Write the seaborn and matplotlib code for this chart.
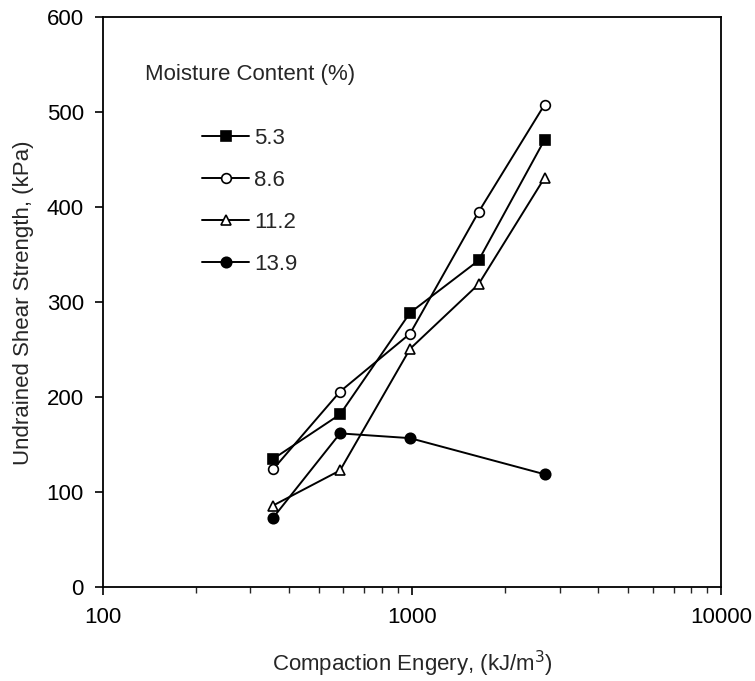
import matplotlib
matplotlib.use("Agg")
import matplotlib.pyplot as plt
import matplotlib.ticker as mticker
import seaborn as sns
import pandas as pd

energy = [355, 585, 985, 1640, 2680]
moisture_labels = ["5.3", "8.6", "11.2", "13.9"]
strength_53 = [135, 182, 289, 344, 471]
strength_86 = [124, 206, 267, 395, 508]
strength_112 = [86, 123, 251, 319, 431]
strength_139 = [73, 162, 157, None, 119]

series = [strength_53, strength_86, strength_112, strength_139]
markers = ["s", "o", "^", "o"]
facecolors = ["black", "white", "white", "black"]
sizes = [7.5, 7, 7.5, 7.5]

sns.set_style("ticks")
plt.rcParams["font.family"] = ["Liberation Sans", "DejaVu Sans"]
plt.rcParams["font.size"] = 16

fig = plt.figure(figsize=(7.55, 6.81), dpi=100)
ax = fig.add_axes([0.136, 0.1376, 0.8196, 0.837])

for lab, vals, m, fc, ms in zip(moisture_labels, series, markers, facecolors, sizes):
    df = pd.DataFrame({"x": energy, "y": vals}).dropna()
    sns.lineplot(data=df, x="x", y="y", ax=ax, color="black", linewidth=1.4,
                 marker=m, markersize=ms, markerfacecolor=fc,
                 markeredgecolor="black", markeredgewidth=1.2, label=lab)

ax.set_xscale("log")
ax.set_xlim(100, 10000)
ax.set_ylim(0, 600)
ax.set_yticks([0, 100, 200, 300, 400, 500, 600])
ax.xaxis.set_major_locator(mticker.FixedLocator([100, 1000, 10000]))
ax.xaxis.set_major_formatter(mticker.FixedFormatter(["100", "1000", "10000"]))
ax.xaxis.set_minor_locator(mticker.LogLocator(base=10, subs=range(2, 10)))
ax.xaxis.set_minor_formatter(mticker.NullFormatter())

for s in ax.spines.values():
    s.set_linewidth(1.3)
    s.set_color("black")

ax.tick_params(axis="both", which="major", direction="out", length=5.5, width=1.2,
               colors="black", labelsize=16)
ax.tick_params(axis="x", which="major", pad=9)
ax.tick_params(axis="y", which="major", pad=8)
ax.tick_params(axis="x", which="minor", direction="out", length=4, width=1.0)
ax.tick_params(top=False, right=False, which="both")

ax.set_xlabel("Compaction Engery, (kJ/m$^{3}$)", fontsize=16, labelpad=15)
ax.set_ylabel("Undrained Shear Strength, (kPa)", fontsize=16, labelpad=9)

ax.text(0.068, 0.899, "Moisture Content (%)", transform=ax.transAxes,
        ha="left", va="center", fontsize=16)
ax.legend(loc="upper left", bbox_to_anchor=(0.160, 0.806), frameon=False,
          borderpad=0, borderaxespad=0, handlelength=2.15, handletextpad=0.2,
          labelspacing=0.95, fontsize=16)

fig.savefig("out.png", dpi=100)
